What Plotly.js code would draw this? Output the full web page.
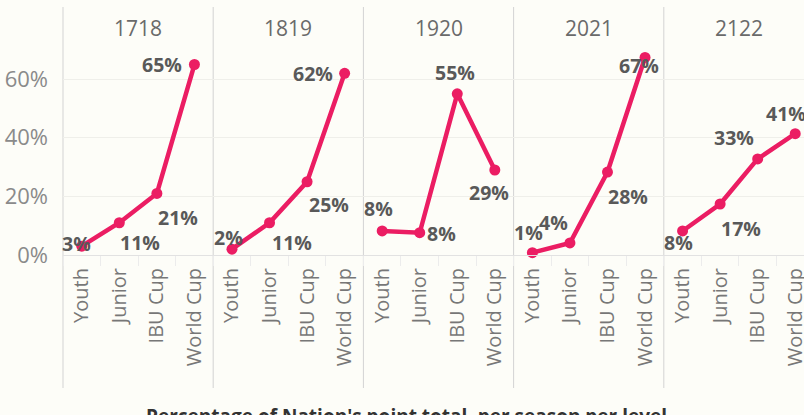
<!DOCTYPE html>
<html>
<head>
<meta charset="utf-8">
<script src="https://cdn.plot.ly/plotly-3.0.1.min.js"></script>
<style>
  html, body { margin: 0; padding: 0; background: #fdfdf8; overflow: hidden; }
  #chart { width: 814px; height: 415px; }
</style>
</head>
<body>
<div id="chart"></div>
<script>
// ---- data ----
const seasons = ['1718', '1819', '1920', '2021', '2122'];
const levels = ['Youth', 'Junior', 'IBU Cup', 'World Cup'];
const s1718 = [3, 11, 21, 65];
const s1819 = [2, 11, 25, 62];
const s1920 = [8.2, 7.6, 55, 29];
const s2021 = [0.8, 4.1, 28.3, 67.4];
const s2122 = [8.2, 17.4, 32.8, 41.4];
const yTicks = [0, 20, 40, 60];
const titleText = "Percentage of Nation's point total, per season per level";

const seriesList = [s1718, s1819, s1920, s2021, s2122];

// ---- label placement (screen px offsets: [dx, dy], dy down) ----
const labelOffsets = [
  [[-5, -3], [21, 20], [21, 24], [-32, 0]],
  [[-3, -12], [22, 20], [22, 23], [-32, 0]],
  [[-4, -22], [22, 1], [-2, -21], [-6, 22]],
  [[-4, -20], [-16, -20], [21, 24], [-6, 8]],
  [[-4, 12], [21, 24], [-24, -21], [-9, -20]]
];

const pink = '#eb1d63';
const FONT = '"Open Sans", "Noto Sans", sans-serif';
const nP = seasons.length;

// plot geometry (px) used to place paper-referenced decorations
const W = 814, H = 415, mL = 63, mR = 0, mT = 44, mB = 160;
const plotH = H - mT - mB;
const pyFromPx = px => (H - mB - px) / plotH;
const pxFromX = px => (px - mL) / (W - mL - mR);

const traces = [];
const annotations = [];
const shapes = [];
const layout = {
  width: W, height: H,
  margin: { l: mL, r: mR, t: mT, b: mB, pad: 0 },
  paper_bgcolor: '#fdfdf8',
  plot_bgcolor: '#fdfdf8',
  showlegend: false,
  font: { family: FONT, color: '#777' },
  yaxis: {
    range: [0, 72],
    tickvals: yTicks,
    ticktext: yTicks.map(v => v + '%'),
    showgrid: true,
    gridcolor: '#efefea',
    gridwidth: 1,
    zeroline: false,
    showline: false,
    ticks: '',
    ticklabelstandoff: 14,
    tickfont: { family: FONT, size: 22, color: '#8a8a8a' },
    anchor: 'x',
    fixedrange: true
  }
};

seasons.forEach((season, i) => {
  const axKey = i === 0 ? 'xaxis' : 'xaxis' + (i + 1);
  const axRef = i === 0 ? 'x' : 'x' + (i + 1);
  const vals = seriesList[i];
  layout[axKey] = {
    domain: [i / nP, (i + 1) / nP],
    type: 'category',
    categoryorder: 'array',
    categoryarray: levels,
    range: [-0.5, levels.length - 0.5],
    tickangle: -90,
    ticks: 'outside',
    tickson: 'boundaries',
    ticklen: 10,
    tickcolor: '#ececec',
    tickwidth: 1,
    ticklabelstandoff: 4,
    showgrid: false,
    showline: true,
    linecolor: '#e2e2e2',
    linewidth: 1,
    zeroline: false,
    anchor: 'y',
    tickfont: { family: FONT, size: 20, color: '#777' },
    fixedrange: true
  };
  traces.push({
    type: 'scatter',
    mode: 'lines+markers',
    x: levels,
    y: vals,
    xaxis: axRef,
    yaxis: 'y',
    line: { color: pink, width: 4.5 },
    marker: { color: pink, size: 11 },
    hoverinfo: 'skip',
    cliponaxis: false
  });
  vals.forEach((v, j) => {
    const off = labelOffsets[i][j];
    annotations.push({
      xref: axRef, yref: 'y',
      x: levels[j], y: v,
      text: Math.round(v) + '%',
      showarrow: false,
      xshift: off[0], yshift: -off[1],
      font: { family: FONT, size: 19.5, color: '#595959', weight: 'bold' }
    });
  });
  // season header
  annotations.push({
    xref: 'paper', yref: 'paper',
    x: (i + 0.5) / nP, y: pyFromPx(28),
    xanchor: 'center', yanchor: 'middle',
    text: season,
    showarrow: false,
    font: { family: FONT, size: 21, color: '#6a6a6a' }
  });
  // panel divider
  shapes.push({
    type: 'line', xref: 'paper', yref: 'paper',
    x0: i / nP, x1: i / nP,
    y0: pyFromPx(388), y1: pyFromPx(7),
    line: { color: '#d3d3d3', width: 1 },
    layer: 'below'
  });
});

// bottom title
annotations.push({
  xref: 'paper', yref: 'paper',
  x: pxFromX(406), y: pyFromPx(401),
  xanchor: 'center', yanchor: 'top',
  text: titleText,
  showarrow: false,
  font: { family: FONT, size: 19, color: '#333333', weight: 'bold' }
});

layout.annotations = annotations;
layout.shapes = shapes;

Plotly.newPlot('chart', traces, layout, { staticPlot: true, displayModeBar: false });
</script>
</body>
</html>
